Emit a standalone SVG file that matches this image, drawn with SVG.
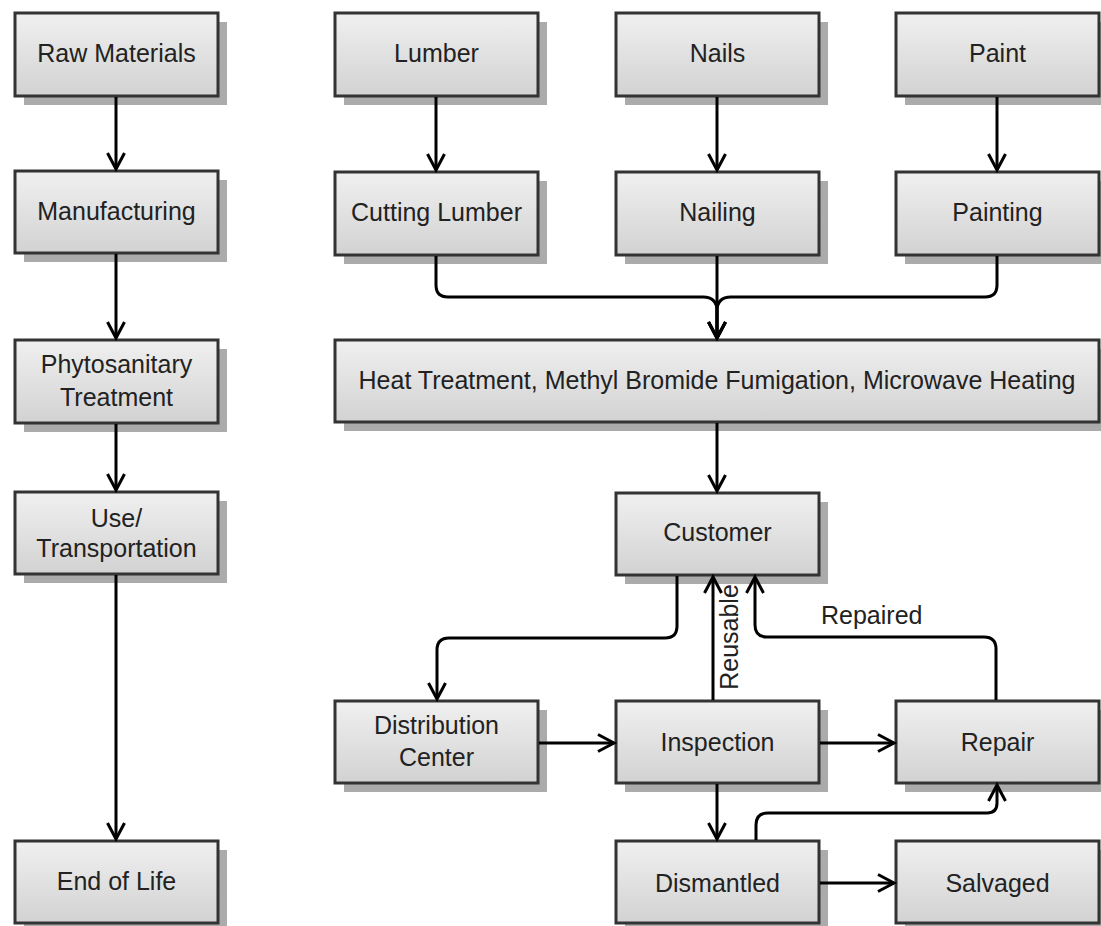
<svg xmlns="http://www.w3.org/2000/svg" width="1101" height="926" viewBox="0 0 1101 926">
  <defs>
    <linearGradient id="boxFill" x1="0" y1="0" x2="0" y2="1">
      <stop offset="0" stop-color="#f0f0f0"/>
      <stop offset="1" stop-color="#d2d2d2"/>
    </linearGradient>
    <marker id="arrow" markerUnits="userSpaceOnUse" markerWidth="24" markerHeight="24" viewBox="-18 -12 24 24" refX="0" refY="0" orient="auto">
      <path d="M-16,-8.5 L0,0 L-16,8.5" fill="none" stroke="#000" stroke-width="3" stroke-linejoin="miter"/>
    </marker>
  </defs>
  <style>
    .shadow { fill: #ababab; }
    .box { fill: url(#boxFill); stroke: #333; stroke-width: 3; }
    .label { font-family: "Liberation Sans", Arial, sans-serif; font-size: 25px; fill: #222; text-anchor: middle; }
    .edge { fill: none; stroke: #000; stroke-width: 3; marker-end: url(#arrow); }
    .edge-label { font-family: "Liberation Sans", Arial, sans-serif; font-size: 25px; fill: #222; }
  </style>
  <rect width="1101" height="926" fill="#fff"/>

  <!-- nodes -->
  <g id="raw-materials">
    <rect class="shadow" x="24" y="22" width="203" height="83"/>
    <rect class="box" x="15" y="13" width="203" height="83"/>
    <text class="label" x="116.5" y="62">Raw Materials</text>
  </g>
  <g id="manufacturing">
    <rect class="shadow" x="24" y="180" width="203" height="82"/>
    <rect class="box" x="15" y="171" width="203" height="82"/>
    <text class="label" x="116.5" y="220">Manufacturing</text>
  </g>
  <g id="phytosanitary-treatment">
    <rect class="shadow" x="24" y="349" width="203" height="83"/>
    <rect class="box" x="15" y="340" width="203" height="83"/>
    <text class="label" x="116.5" y="373">Phytosanitary</text>
    <text class="label" x="116.5" y="406">Treatment</text>
  </g>
  <g id="use-transportation">
    <rect class="shadow" x="24" y="501" width="203" height="82"/>
    <rect class="box" x="15" y="492" width="203" height="82"/>
    <text class="label" x="116.5" y="527">Use/</text>
    <text class="label" x="116.5" y="557">Transportation</text>
  </g>
  <g id="end-of-life">
    <rect class="shadow" x="24" y="850" width="203" height="82"/>
    <rect class="box" x="15" y="841" width="203" height="82"/>
    <text class="label" x="116.5" y="890">End of Life</text>
  </g>

  <g id="lumber">
    <rect class="shadow" x="344" y="22" width="203" height="83"/>
    <rect class="box" x="335" y="13" width="203" height="83"/>
    <text class="label" x="436.5" y="62">Lumber</text>
  </g>
  <g id="nails">
    <rect class="shadow" x="625" y="22" width="203" height="83"/>
    <rect class="box" x="616" y="13" width="203" height="83"/>
    <text class="label" x="717.5" y="62">Nails</text>
  </g>
  <g id="paint">
    <rect class="shadow" x="905" y="22" width="203" height="83"/>
    <rect class="box" x="896" y="13" width="203" height="83"/>
    <text class="label" x="997.5" y="62">Paint</text>
  </g>

  <g id="cutting-lumber">
    <rect class="shadow" x="344" y="181" width="203" height="83"/>
    <rect class="box" x="335" y="172" width="203" height="83"/>
    <text class="label" x="436.5" y="221">Cutting Lumber</text>
  </g>
  <g id="nailing">
    <rect class="shadow" x="625" y="181" width="203" height="83"/>
    <rect class="box" x="616" y="172" width="203" height="83"/>
    <text class="label" x="717.5" y="221">Nailing</text>
  </g>
  <g id="painting">
    <rect class="shadow" x="905" y="181" width="203" height="83"/>
    <rect class="box" x="896" y="172" width="203" height="83"/>
    <text class="label" x="997.5" y="221">Painting</text>
  </g>

  <g id="treatment">
    <rect class="shadow" x="344" y="349" width="763" height="82"/>
    <rect class="box" x="335" y="340" width="764" height="82"/>
    <text class="label" x="717" y="389">Heat Treatment, Methyl Bromide Fumigation, Microwave Heating</text>
  </g>

  <g id="customer">
    <rect class="shadow" x="625" y="502" width="203" height="82"/>
    <rect class="box" x="616" y="493" width="203" height="82"/>
    <text class="label" x="717.5" y="541">Customer</text>
  </g>

  <g id="distribution-center">
    <rect class="shadow" x="344" y="710" width="203" height="82"/>
    <rect class="box" x="335" y="701" width="203" height="82"/>
    <text class="label" x="436.5" y="734">Distribution</text>
    <text class="label" x="436.5" y="766">Center</text>
  </g>
  <g id="inspection">
    <rect class="shadow" x="625" y="710" width="203" height="82"/>
    <rect class="box" x="616" y="701" width="203" height="82"/>
    <text class="label" x="717.5" y="751">Inspection</text>
  </g>
  <g id="repair">
    <rect class="shadow" x="905" y="710" width="203" height="82"/>
    <rect class="box" x="896" y="701" width="203" height="82"/>
    <text class="label" x="997.5" y="751">Repair</text>
  </g>

  <g id="dismantled">
    <rect class="shadow" x="625" y="850" width="203" height="82"/>
    <rect class="box" x="616" y="841" width="203" height="82"/>
    <text class="label" x="717.5" y="892">Dismantled</text>
  </g>
  <g id="salvaged">
    <rect class="shadow" x="905" y="850" width="203" height="82"/>
    <rect class="box" x="896" y="841" width="203" height="82"/>
    <text class="label" x="997.5" y="892">Salvaged</text>
  </g>

  <!-- connectors -->
  <g id="connectors">
    <!-- lifecycle column -->
    <path class="edge" d="M116,97 V169"/>
    <path class="edge" d="M116,254 V338"/>
    <path class="edge" d="M116,424 V490"/>
    <path class="edge" d="M116,575 V839"/>
    <!-- inputs to processes -->
    <path class="edge" d="M436,97 V170"/>
    <path class="edge" d="M717,97 V170"/>
    <path class="edge" d="M997,97 V170"/>
    <!-- processes merge into treatment -->
    <path class="edge" d="M436,256 V285 Q436,297 448,297 H703 Q717,297 717,311 V338"/>
    <path class="edge" d="M997,256 V285 Q997,297 985,297 H731 Q717,297 717,311 V338"/>
    <path class="edge" d="M717,256 V338"/>
    <!-- treatment to customer -->
    <path class="edge" d="M717,423 V491"/>
    <!-- customer to distribution center -->
    <path class="edge" d="M677,576 V626 Q677,638 665,638 H449 Q437,638 437,650 V699"/>
    <!-- reusable back to customer -->
    <path class="edge" d="M713,700 V577"/>
    <!-- repaired back to customer -->
    <path class="edge" d="M996,700 V649 Q996,637 984,637 H767 Q755,637 755,625 V577"/>
    <!-- distribution to inspection -->
    <path class="edge" d="M539,743 H614"/>
    <!-- inspection to repair -->
    <path class="edge" d="M820,743 H894"/>
    <!-- inspection to dismantled -->
    <path class="edge" d="M717,784 V839"/>
    <!-- dismantled to repair -->
    <path class="edge" d="M756,840 V825 Q756,813 768,813 H987 Q997,813 997,803 V785"/>
    <!-- dismantled to salvaged -->
    <path class="edge" d="M820,883 H894"/>
    <text class="edge-label" transform="translate(738,637) rotate(-90)" text-anchor="middle">Reusable</text>
    <text class="edge-label" x="821" y="624">Repaired</text>
  </g>
</svg>
